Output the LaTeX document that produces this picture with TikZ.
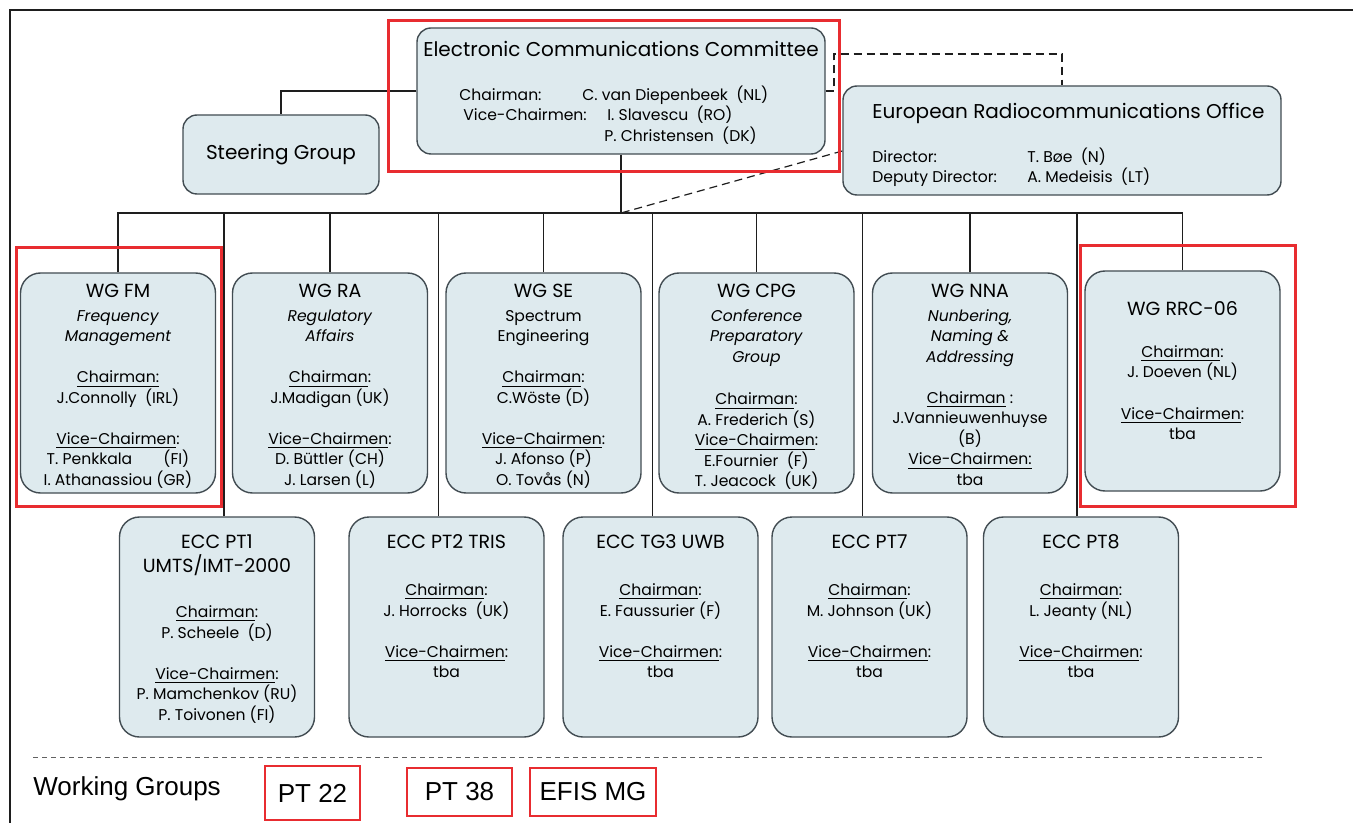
\documentclass[tikz,border=0pt]{standalone}
\usepackage{fontspec}
\setmainfont{Poppins}
\newfontfamily\arialfont{Liberation Sans}
\usetikzlibrary{positioning}
\definecolor{orgFill}{RGB}{222,234,238}
\definecolor{orgLine}{RGB}{66,76,82}
\definecolor{orgRed}{RGB}{232,44,48}
\definecolor{orgDark}{RGB}{30,30,30}
\newcommand{\grptitle}[1]{{\fontsize{9.5}{10.25}\selectfont #1}}
\newcommand{\grpbody}[1]{\parbox[t]{96pt}{\centering #1}}

\begin{document}
\begin{tikzpicture}[
  x=0.5pt, y=-0.5pt,
  font=\fontsize{7.8}{10.25}\selectfont,
  topbox/.style={draw=orgLine, fill=orgFill, line width=0.7pt, rounded corners=7pt, inner sep=0pt},
  grp/.style={draw=orgLine, fill=orgFill, line width=0.7pt, rounded corners=10pt, inner sep=0pt, minimum width=97.5pt, text height=12.5pt, text depth=97.5pt},
  ptgrp/.style={grp, text height=15.5pt, text depth=94.5pt},
  officer/.style={anchor=base west, inner sep=0pt, font=\fontsize{7.8}{10}\selectfont},
  headline/.style={anchor=base, inner sep=0pt, font=\fontsize{10}{12}\selectfont},
  tie/.style={draw=orgDark, line width=0.6pt},
  dashlink/.style={draw=orgDark, line width=0.6pt, dash pattern=on 4pt off 2.5pt},
  hilite/.style={draw=orgRed, line width=1.5pt},
  wgbox/.style={draw=orgRed, line width=1.3pt, inner sep=0pt, font=\arialfont\fontsize{13}{15}\selectfont}
]
\useasboundingbox (0,0) rectangle (1353,823);
\fill[white] (0,0) rectangle (1353,823);
\draw[line width=1pt, orgDark] (1353,10) -- (10,10) -- (10,823);

% committee, office, steering group
\node[topbox, minimum width=204pt, minimum height=63pt] (ecc) at (621,91) {};
\node[headline] (ecctitle) at (621,57) {Electronic Communications Committee};
\node[officer] (eccchair)  at (459,101) {Chairman:};
\node[officer] (eccvice)   at (463,121) {Vice-Chairmen:};
\node[officer] (eccname1)  at (582,101) {C. van Diepenbeek\ \ (NL)};
\node[officer] (eccname2)  at (607,121) {I. Slavescu\ \ (RO)};
\node[officer] (eccname3)  at (604,142) {P. Christensen\ \ (DK)};

\node[topbox, minimum width=219pt, minimum height=54.5pt] (ero) at (1062,140.5) {};
\node[headline, anchor=base west] (erotitle) at (872,119) {European Radiocommunications Office};
\node[officer] (erodir)    at (872,163) {Director:};
\node[officer] (erodep)    at (872,183) {Deputy Director:};
\node[officer] (erodname)  at (1027,163) {T. Bøe\ \ (N)};
\node[officer] (erodpname) at (1027,183) {A. Medeisis\ \ (LT)};

\node[topbox, minimum width=98pt, minimum height=39.5pt, font=\fontsize{10}{12}\selectfont] (steer) at (281,154.5) {Steering Group};

% working groups
\node[grp] (fm) at (118,383) {\grpbody{\grptitle{WG FM}\\[1.5pt] \textit{Frequency}\\ \textit{Management}\\[10.25pt]
  \underline{Chairman:}\\ J.Connolly\ \ (IRL)\\[10.25pt] \underline{Vice-Chairmen}:\\ T. Penkkala\qquad(FI)\\ I. Athanassiou (GR)}};
\node[grp] (ra) at (330,383) {\grpbody{\grptitle{WG RA}\\[1.5pt] \textit{Regulatory}\\ \textit{Affairs}\\[10.25pt]
  \underline{Chairman}:\\ J.Madigan (UK)\\[10.25pt] \underline{Vice-Chairmen}:\\ D. Büttler (CH)\\ J. Larsen (L)}};
\node[grp] (se) at (543.5,383) {\grpbody{\grptitle{WG SE}\\[1.5pt] Spectrum\\ Engineering\\[10.25pt]
  \underline{Chairman}:\\ C.Wöste\ (D)\\[10.25pt] \underline{Vice-Chairmen}:\\ J. Afonso\ (P)\\ O. Tovås\ (N)}};
\node[grp] (cpg) at (756.5,383) {\grpbody{\grptitle{WG CPG}\\[1.5pt] \textit{Conference}\\ \textit{Preparatory}\\ \textit{Group}\\[11pt]
  \underline{Chairman}:\\ A. Frederich (S)\\ \underline{Vice-Chairmen}:\\ E.Fournier\ \ (F)\\ T. Jeacock\ \ (UK)}};
\node[grp] (nna) at (970,383) {\grpbody{\grptitle{WG NNA}\\[1.5pt] \textit{Nunbering,}\\ \textit{Naming \&}\\ \textit{Addressing}\\[10.25pt]
  \underline{Chairman}\ :\\ J.Vannieuwenhuyse\\ (B)\\ \underline{Vice-Chairmen:}\\ tba}};
\node[grp, text height=22pt, text depth=88pt] (rrc) at (1182.5,381) {\grpbody{\grptitle{WG RRC-06}\\[11pt]
  \underline{Chairman}:\\ J. Doeven (NL)\\[10.25pt] \underline{Vice-Chairmen}:\\ tba}};

% project teams
\node[ptgrp] (pt1) at (217,627) {\grpbody{\grptitle{ECC PT1}\\[1.75pt] \grptitle{UMTS/IMT-2000}\\[12.5pt]
  \underline{Chairman}:\\ P. Scheele\ \ (D)\\[10.25pt] \underline{Vice-Chairmen}:\\ P. Mamchenkov (RU)\\ P. Toivonen (FI)}};
\node[ptgrp] (pt2) at (446.5,627) {\grpbody{\grptitle{ECC PT2 TRIS}\\[13.5pt]
  \underline{Chairman}:\\ J. Horrocks\ \ (UK)\\[10.25pt] \underline{Vice-Chairmen}:\\ tba}};
\node[ptgrp] (tg3) at (660.5,627) {\grpbody{\grptitle{ECC TG3 UWB}\\[13.5pt]
  \underline{Chairman}:\\ E. Faussurier (F)\\[10.25pt] \underline{Vice-Chairmen}:\\ tba}};
\node[ptgrp] (pt7) at (869.5,627) {\grpbody{\grptitle{ECC PT7}\\[13.5pt]
  \underline{Chairman}:\\ M. Johnson (UK)\\[10.25pt] \underline{Vice-Chairmen}:\\ tba}};
\node[ptgrp] (pt8) at (1081,627) {\grpbody{\grptitle{ECC PT8}\\[13.5pt]
  \underline{Chairman}:\\ L. Jeanty (NL)\\[10.25pt] \underline{Vice-Chairmen}:\\ tba}};

% connectors
\coordinate (bus) at (621,213);
\coordinate (dk) at (834,54);
\draw[tie] (ecc.south) -- (bus);
\draw[tie] (ecc.west) -| (steer.north);
\foreach \g/\dx in {fm/0, pt1/3.5, ra/0, pt2/-4, se/0, tg3/-4, cpg/0, pt7/-3.5, nna/0, pt8/-2, rrc/0}
  \draw[tie] ([xshift=\dx pt]\g.north) |- (bus);
\draw[dashlink] (ecc.east) -| (dk) -| (ero.north);
\draw[dashlink] ([yshift=-5.25pt]ero.west) -- (bus);

% highlights
\draw[hilite] (388,21) rectangle (839,172);
\draw[hilite] (16,248) rectangle (221,506);
\draw[hilite] (1080,246) rectangle (1295,506);

% legend
\draw[draw=orgDark!70, line width=0.5pt, dash pattern=on 2.5pt off 2pt] (33,757) -- (1265,757);
\node[anchor=base west, inner sep=0pt, font=\arialfont\fontsize{13}{15}\selectfont] (wglabel) at (33,795) {Working Groups};
\node[wgbox, minimum width=47.5pt, minimum height=27pt] (pt22) at (312.5,793) {PT 22};
\node[wgbox, minimum width=52.5pt, minimum height=24pt] (pt38) at (459.5,792) {PT 38};
\node[wgbox, minimum width=63pt, minimum height=24pt] (efis) at (593,792) {EFIS MG};
\end{tikzpicture}
\end{document}
